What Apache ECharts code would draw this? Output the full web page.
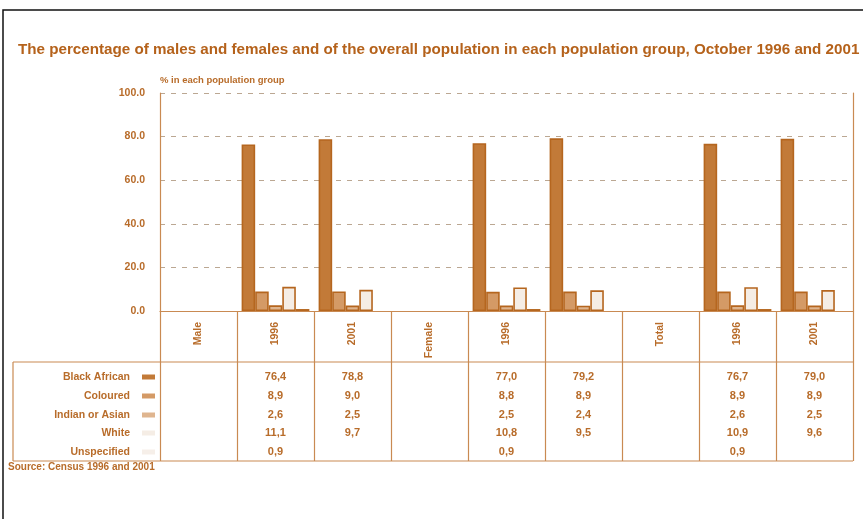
<!DOCTYPE html>
<html>
<head>
<meta charset="utf-8">
<script src="https://cdn.jsdelivr.net/npm/echarts@6/dist/echarts.min.js"></script>
<style>
html,body{margin:0;padding:0;background:#fff;}
#chart{width:863px;height:519px;}
</style>
</head>
<body>
<div id="chart"></div>
<script>
// ---- data ----
var categories = ['Male', 'Male 1996', 'Male 2001', 'Female', 'Female 1996', 'Female 2001', 'Total', 'Total 1996', 'Total 2001'];
var headerLabels = ['Male', '1996', '2001', 'Female', '1996', '', 'Total', '1996', '2001'];
var seriesNames = ['Black African', 'Coloured', 'Indian or Asian', 'White', 'Unspecified'];
var blackAfrican = [null, 76.4, 78.8, null, 77.0, 79.2, null, 76.7, 79.0];
var coloured     = [null, 8.9, 9.0, null, 8.8, 8.9, null, 8.9, 8.9];
var indianAsian  = [null, 2.6, 2.5, null, 2.5, 2.4, null, 2.6, 2.5];
var white        = [null, 11.1, 9.7, null, 10.8, 9.5, null, 10.9, 9.6];
var unspecified  = [null, 0.9, null, null, 0.9, null, null, 0.9, null];
var yTicks = [0, 20, 40, 60, 80, 100];
var titleText = 'The percentage of males and females and of the overall population in each population group, October 1996 and 2001';
var yAxisName = '% in each population group';
var sourceText = 'Source: Census 1996 and 2001';

// ---- styles ----
var TXT = '#b86c2a';
var LINE = '#c98a52';
var FONT = "'Liberation Sans', Arial, sans-serif";
var fills = ['#c27a38', '#d49a66', '#dfb58f', '#f5ede5', '#f6efe9'];
var allSeries = [blackAfrican, coloured, indianAsian, white, unspecified];
var rowY = [377, 396, 415, 433, 452];
var axisY = 311;

function fmt(v) { return (v === null || v === undefined) ? '' : v.toFixed(1).replace('.', ','); }

var chart = echarts.init(document.getElementById('chart'), null, {renderer: 'canvas'});

var xAxes = [{
  type: 'category',
  data: categories,
  gridIndex: 0,
  position: 'bottom',
  axisLine: {show: true, lineStyle: {color: LINE, width: 1.2}},
  axisTick: {show: true, interval: 0, length: 150, lineStyle: {color: LINE, width: 1.2}},
  axisLabel: {
    interval: 0, rotate: 90, margin: 11,
    color: TXT, fontFamily: FONT, fontSize: 10.5, fontWeight: 'bold',
    formatter: function (v, i) { return headerLabels[i]; }
  },
  splitLine: {show: false}
}];
allSeries.forEach(function (arr, k) {
  xAxes.push({
    type: 'category',
    data: categories,
    gridIndex: 0,
    position: 'bottom',
    offset: rowY[k] - axisY,
    axisLine: {show: false},
    axisTick: {show: false},
    splitLine: {show: false},
    axisLabel: {
      interval: 0, margin: 0, verticalAlign: 'middle',
      color: TXT, fontFamily: FONT, fontSize: 11, fontWeight: 'bold',
      formatter: function (v, i) { return fmt(arr[i]); }
    }
  });
});

var graphics = [
  // outer black frame (top & left)
  {type: 'polyline', shape: {points: [[3, 519], [3, 10], [863, 10]]}, style: {stroke: '#111', lineWidth: 1.5, fill: null}, silent: true},
  // table lines
  {type: 'line', shape: {x1: 13, y1: 362, x2: 853, y2: 362}, style: {stroke: LINE, lineWidth: 1.2}},
  {type: 'line', shape: {x1: 13, y1: 461, x2: 853, y2: 461}, style: {stroke: LINE, lineWidth: 1.2}},
  {type: 'line', shape: {x1: 13, y1: 362, x2: 13, y2: 461}, style: {stroke: LINE, lineWidth: 1.2}},
  {type: 'text', left: 8, top: 462, style: {text: sourceText, fill: TXT, font: 'bold 10px ' + FONT}}
];
seriesNames.forEach(function (n, k) {
  graphics.push({type: 'text', x: 130, y: rowY[k], style: {text: n, fill: TXT, font: 'bold 10.5px ' + FONT, textAlign: 'right', textVerticalAlign: 'middle'}});
  graphics.push({type: 'rect', shape: {x: 142, y: rowY[k] - 2.5, width: 13, height: 5}, style: {fill: fills[k]}});
});

var series = allSeries.map(function (arr, k) {
  return {
    name: seriesNames[k],
    type: 'bar',
    xAxisIndex: 0,
    yAxisIndex: 0,
    data: arr,
    barGap: '0%',
    barCategoryGap: '12%',
    itemStyle: {color: fills[k], borderColor: '#b5661f', borderWidth: 1.6},
    emphasis: {disabled: true}
  };
});

chart.setOption({
  animation: false,
  backgroundColor: '#fff',
  title: {
    text: titleText,
    left: 13, top: 37,
    textStyle: {color: '#b5621b', fontFamily: FONT, fontSize: 15.2, fontWeight: 'bold'}
  },
  grid: {left: 160, right: 10, top: 93, bottom: 519 - axisY, containLabel: false},
  xAxis: xAxes,
  yAxis: [{
    type: 'value', min: yTicks[0], max: yTicks[yTicks.length - 1], interval: yTicks[1] - yTicks[0],
    name: yAxisName, nameLocation: 'end', nameGap: 8,
    nameTextStyle: {color: TXT, fontFamily: FONT, fontSize: 9.5, fontWeight: 'bold', align: 'left'},
    axisLine: {show: true, lineStyle: {color: LINE, width: 1.2}},
    axisTick: {show: false},
    axisLabel: {color: TXT, fontFamily: FONT, fontSize: 10.5, fontWeight: 'bold', margin: 15,
      formatter: function (v) { return v.toFixed(1); }},
    splitLine: {show: true, lineStyle: {color: '#bba792', type: [5, 6], width: 1}}
  }, {
    type: 'value', min: yTicks[0], max: yTicks[yTicks.length - 1], position: 'right',
    axisLine: {show: true, lineStyle: {color: LINE, width: 1.2}},
    axisTick: {show: false}, axisLabel: {show: false}, splitLine: {show: false}
  }],
  graphic: graphics,
  series: series
});
</script>
</body>
</html>
